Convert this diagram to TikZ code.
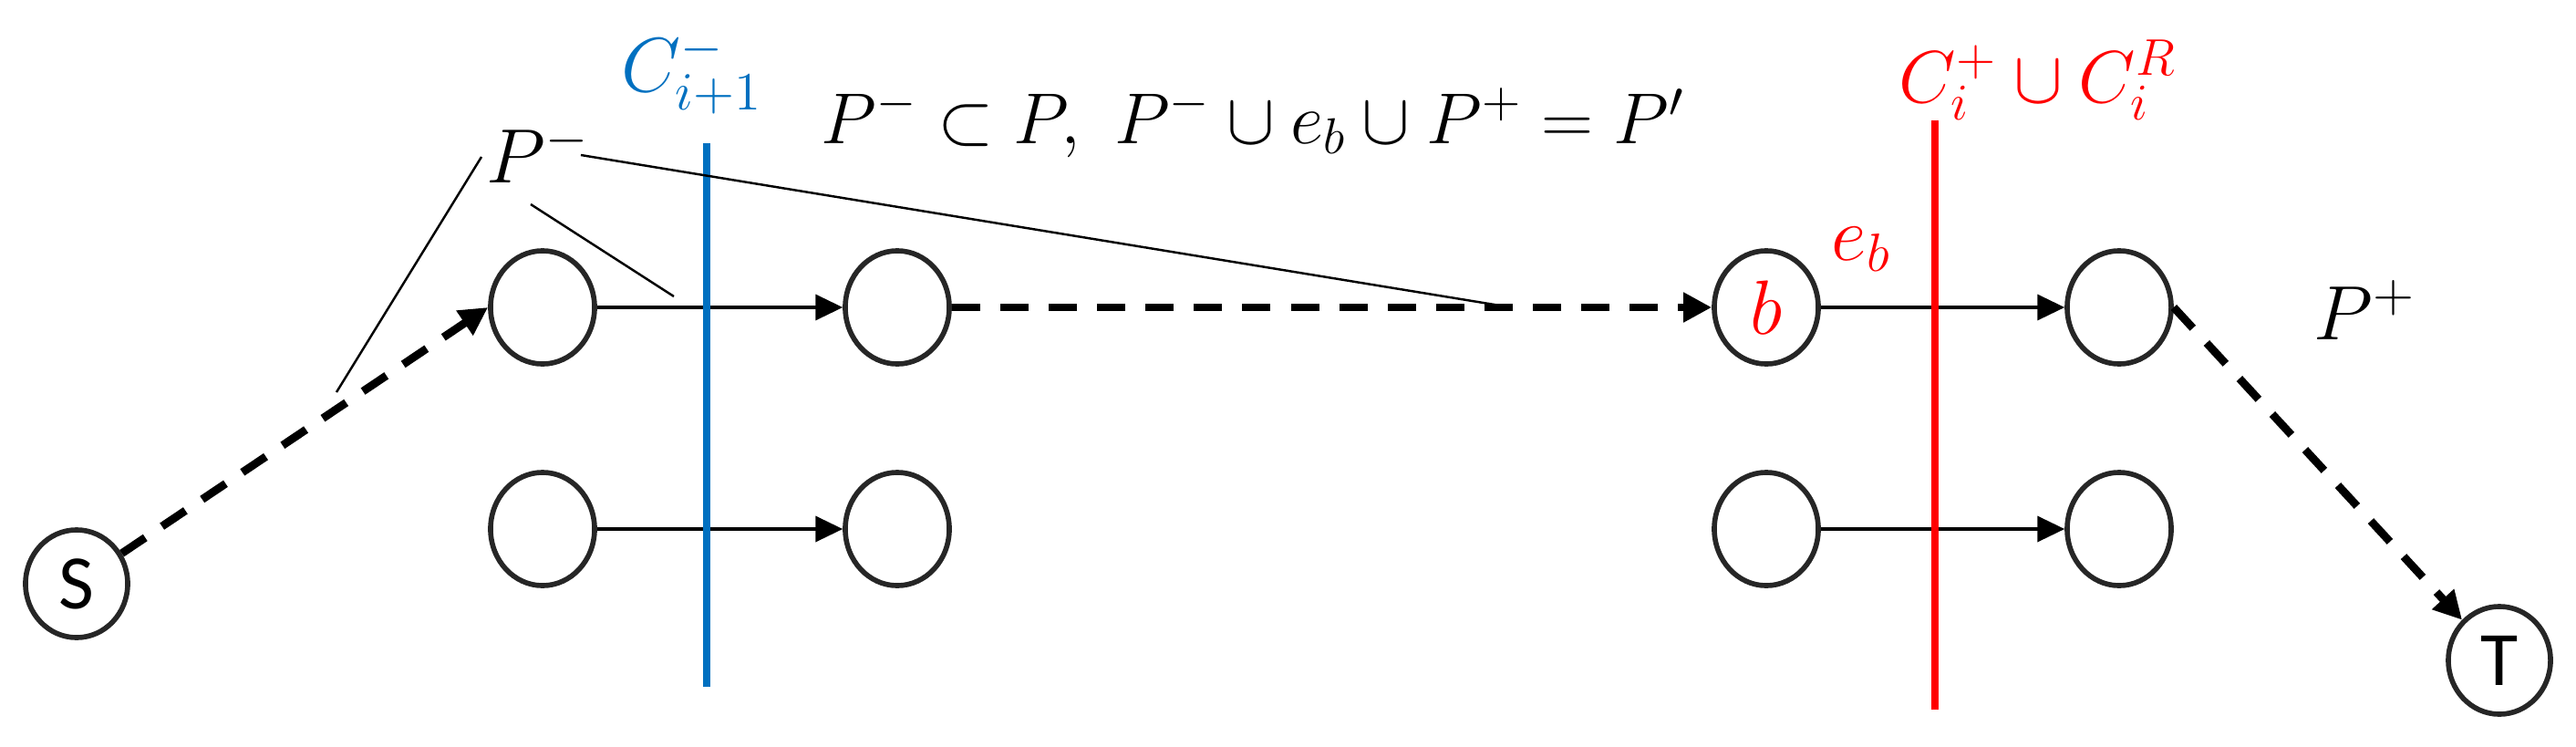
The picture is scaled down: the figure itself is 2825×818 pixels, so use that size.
\RequirePackage{fix-cm}
\documentclass[tikz,border=0pt]{standalone}
\usepackage{fontspec}
\newfontfamily\stfont{Carlito}
\usetikzlibrary{arrows.meta,shapes.geometric}
\definecolor{cblue}{HTML}{0070C0}
\definecolor{cred}{HTML}{FF0000}
\begin{document}
\begin{tikzpicture}[x=0.01cm,y=-0.01cm,
  vtx/.style={ellipse,draw=black!85,line width=1.6pt,minimum width=1.14cm,minimum height=1.24cm,inner sep=0pt},
  endvtx/.style={vtx,minimum width=1.12cm,minimum height=1.18cm,font=\stfont\fontsize{24}{28}\selectfont},
  solidarrow/.style={line width=0.9pt,-{Triangle[length=8.5pt,width=8pt]}},
  dasharrow/.style={line width=2.5pt,dash pattern=on 8.8pt off 6.3pt,-{Triangle[length=8.8pt,width=8.8pt]}},
  pointer/.style={line width=0.7pt},
  cutline/.style={line width=2.2pt},
  lbl/.style={font=\fontsize{24}{29}\selectfont,inner sep=0pt}
]
\useasboundingbox (0,0) rectangle (2825,818);
% vertices
\node[endvtx] (S) at (84,640) {S};
\node[vtx] (A1) at (595,337) {};
\node[vtx] (A2) at (984,337) {};
\node[vtx] (B1) at (595,580) {};
\node[vtx] (B2) at (984,580) {};
\node[vtx,text=cred,font=\fontsize{24}{29}\selectfont] (b) at (1937,337) {$b$};
\node[vtx] (R1) at (2324,337) {};
\node[vtx] (D1) at (1937,580) {};
\node[vtx] (R2) at (2324,580) {};
\node[endvtx] (T) at (2741,724) {T};
% edges
\draw[solidarrow] (A1) -- (A2);
\draw[solidarrow] (B1) -- (B2);
\draw[solidarrow] (b) -- (R1);
\draw[solidarrow] (D1) -- (R2);
\draw[dasharrow] (S) -- (A1.west);
\draw[dasharrow] (A2.east) -- (b.west);
\draw[dasharrow] (R1.east) -- (T);
% cut lines
\coordinate (blueTop) at (775,157);
\coordinate (blueBot) at (775,753);
\coordinate (redTop) at (2122,132);
\coordinate (redBot) at (2122,778);
\draw[cutline,cblue] (blueTop) -- (blueBot);
\draw[cutline,cred] (redTop) -- (redBot);
% labels
\node[lbl,anchor=base west,text=cblue] (Cminus) at (681,100) {$C_{i+1}^{-}$};
\node[lbl,anchor=base,font=\fontsize{22.5}{27}\selectfont] (formula) at (1374,157) {$P^{-}\subset P,\ P^{-}\cup e_b\cup P^{+}=P'$};
\node[lbl,anchor=base west,text=cred,font=\fontsize{23}{28}\selectfont] (Cplus) at (2082,112) {$C_i^{+}\cup C_i^{R}$};
\node[lbl,anchor=base west,text=cred] (eb) at (2008,285) {$e_b$};
\node[lbl,anchor=base west] (Pplus) at (2537,372) {$P^{+}$};
\node[lbl,anchor=base west] (Pminus) at (533,200) {$P^{-}$};
% pointer lines from P^-
\coordinate (p1s) at (528,172);
\coordinate (p1e) at (369,430);
\coordinate (p2s) at (582,224);
\coordinate (p2e) at (739,325);
\coordinate (p3s) at (637,170);
\coordinate (p3e) at (1645,335);
\draw[pointer] (p1s) -- (p1e);
\draw[pointer] (p2s) -- (p2e);
\draw[pointer] (p3s) -- (p3e);
\end{tikzpicture}
\end{document}
